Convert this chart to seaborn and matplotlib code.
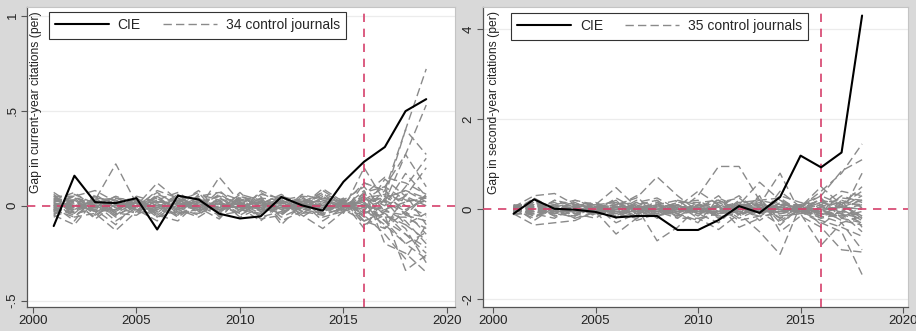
import numpy as np
import pandas as pd
import matplotlib
matplotlib.use("Agg")
import matplotlib.pyplot as plt
from matplotlib.lines import Line2D
import seaborn as sns

# ---------------- data ----------------
years_left = list(range(2001, 2020))
years_right = list(range(2001, 2019))

cie_left = [-0.107, 0.158, 0.019, 0.014, 0.040, -0.125, 0.053, 0.033, -0.042, -0.067,
            -0.056, 0.046, 0.002, -0.026, 0.126, 0.232, 0.309, 0.498, 0.561]
cie_right = [-0.10, 0.22, 0.01, -0.01, -0.06, -0.18, -0.15, -0.15, -0.46, -0.46,
             -0.24, 0.07, -0.08, 0.27, 1.19, 0.93, 1.26, 4.30]

controls_left = [
    [0.05, -0.02, 0.03, 0.22, 0.01, -0.04, 0.02, 0.01, -0.02, 0.00, 0.02, -0.01, 0.01, 0.00, 0.01, 0.12, 0.08, 0.40, 0.72],
    [-0.03, 0.04, 0.02, -0.05, 0.00, 0.12, 0.03, -0.02, 0.15, 0.02, -0.03, 0.01, 0.04, -0.02, 0.00, 0.03, 0.10, 0.27, 0.53],
    [0.02, -0.06, -0.04, -0.13, -0.03, 0.05, -0.02, 0.03, -0.01, 0.04, 0.01, -0.02, 0.00, 0.09, 0.02, -0.05, 0.05, 0.40, 0.27],
    [0.00, 0.05, 0.08, 0.02, -0.02, -0.01, 0.06, -0.03, 0.02, -0.04, 0.08, 0.03, -0.02, 0.01, -0.02, 0.20, 0.02, 0.27, 0.10],
    [-0.05, -0.10, 0.03, 0.04, 0.03, -0.05, -0.08, 0.02, 0.05, 0.01, -0.02, 0.05, 0.02, -0.04, 0.03, -0.10, -0.05, -0.34, -0.26],
    [0.04, 0.02, -0.03, -0.02, 0.05, 0.02, 0.01, 0.08, -0.03, 0.02, -0.06, -0.03, 0.06, 0.03, -0.01, 0.08, -0.20, -0.25, -0.35],
    [-0.02, 0.06, 0.01, -0.08, -0.01, 0.08, 0.04, -0.04, 0.00, -0.02, 0.04, -0.08, -0.03, 0.05, 0.02, -0.03, 0.14, 0.05, 0.20],
    [0.06, -0.04, 0.05, 0.01, 0.02, -0.06, -0.03, 0.05, 0.07, 0.03, 0.00, 0.02, -0.05, -0.12, -0.03, 0.05, 0.00, 0.17, 0.05],
    [-0.04, 0.01, -0.06, 0.03, -0.04, 0.03, 0.07, 0.00, -0.05, -0.03, 0.06, 0.04, 0.03, -0.01, 0.04, -0.08, -0.12, 0.06, -0.10],
    [0.01, -0.03, 0.04, -0.03, 0.04, -0.02, -0.05, 0.06, 0.03, -0.06, -0.01, -0.04, 0.02, 0.07, -0.04, 0.12, 0.08, -0.05, 0.06],
    [0.03, 0.07, -0.01, 0.05, -0.03, 0.06, 0.02, -0.01, -0.07, 0.05, 0.02, 0.00, -0.04, 0.02, 0.03, -0.04, 0.03, -0.10, -0.18],
    [-0.06, -0.01, 0.02, -0.06, 0.02, 0.00, -0.01, -0.05, 0.04, 0.00, -0.05, 0.03, 0.05, -0.05, -0.01, 0.02, -0.08, -0.15, -0.22],
    [0.02, 0.03, -0.07, 0.01, -0.02, -0.08, 0.05, 0.03, -0.02, 0.06, 0.03, -0.06, -0.01, 0.04, 0.02, -0.12, 0.04, 0.08, 0.04],
    [-0.01, -0.05, 0.00, 0.05, 0.01, 0.04, -0.04, -0.02, 0.08, -0.01, -0.08, 0.02, 0.03, -0.06, -0.03, 0.01, -0.04, -0.12, -0.30],
    [0.07, 0.00, 0.02, -0.04, -0.05, 0.02, 0.03, 0.02, -0.04, 0.03, 0.05, -0.10, 0.01, 0.03, 0.00, 0.06, 0.15, 0.12, 0.06],
    [-0.03, 0.04, -0.05, 0.02, 0.03, -0.03, -0.02, -0.06, 0.01, -0.05, 0.01, 0.05, -0.03, 0.08, 0.01, -0.02, -0.10, -0.20, -0.14],
    [0.00, -0.08, 0.06, -0.01, 0.00, 0.07, 0.00, 0.04, -0.03, 0.07, -0.03, -0.01, 0.04, -0.02, -0.02, 0.04, 0.06, 0.02, 0.05],
    [0.04, 0.02, -0.02, -0.10, 0.02, -0.04, 0.06, -0.03, 0.02, -0.02, 0.07, 0.01, -0.06, 0.01, 0.02, -0.06, -0.02, -0.08, -0.20],
    [-0.02, -0.02, 0.03, 0.03, -0.03, 0.01, -0.06, 0.01, 0.05, 0.01, -0.04, 0.04, 0.02, -0.08, -0.01, 0.03, 0.02, -0.04, -0.06],
    [0.05, 0.05, -0.03, -0.02, 0.04, -0.02, 0.02, 0.07, -0.06, 0.04, 0.00, -0.03, 0.00, 0.06, 0.03, 0.10, -0.03, 0.10, 0.25],
    [-0.04, -0.03, 0.01, 0.02, -0.01, 0.05, -0.03, -0.04, 0.03, -0.03, 0.04, 0.03, -0.02, -0.04, -0.02, -0.05, -0.15, -0.28, -0.10],
    [0.01, 0.01, 0.05, -0.04, 0.02, -0.01, 0.04, 0.00, -0.01, 0.02, -0.07, -0.05, 0.05, 0.04, 0.01, 0.00, 0.05, -0.02, 0.03],
    [-0.01, -0.04, -0.02, 0.01, -0.02, 0.03, -0.01, 0.03, 0.00, -0.04, 0.02, 0.02, -0.04, -0.03, 0.00, -0.03, -0.06, -0.06, -0.12],
    [0.03, 0.00, 0.00, -0.03, 0.03, -0.06, 0.01, -0.01, 0.06, 0.00, -0.02, -0.02, 0.03, 0.02, -0.03, 0.07, 0.10, 0.03, 0.02],
    [-0.05, 0.03, -0.04, 0.04, 0.00, 0.02, -0.04, 0.05, -0.04, 0.05, 0.01, 0.06, -0.01, -0.01, 0.02, -0.08, -0.04, -0.15, -0.25],
    [0.00, -0.02, 0.02, -0.01, -0.04, -0.02, 0.05, -0.02, 0.01, -0.01, -0.01, -0.04, 0.02, 0.05, -0.01, 0.02, -0.12, -0.03, 0.05],
    [0.02, 0.05, -0.01, 0.00, 0.01, 0.04, -0.02, 0.02, -0.02, 0.03, 0.03, 0.00, -0.02, -0.02, 0.01, -0.04, 0.00, 0.05, 0.00],
    [-0.02, -0.06, 0.04, 0.03, -0.02, -0.05, 0.02, -0.03, 0.04, -0.02, -0.04, 0.04, 0.01, 0.03, 0.00, 0.05, -0.05, -0.10, -0.04],
    [0.03, 0.03, 0.00, -0.05, 0.03, 0.01, -0.05, 0.01, -0.03, 0.01, 0.02, -0.05, 0.03, 0.00, -0.01, -0.02, 0.08, 0.00, -0.05],
    [-0.03, 0.00, -0.03, 0.01, 0.01, -0.03, 0.03, -0.01, 0.00, -0.01, 0.00, 0.02, -0.03, -0.05, 0.02, 0.01, -0.08, -0.20, -0.28],
    [0.01, -0.01, 0.01, 0.02, -0.01, 0.00, -0.01, 0.03, 0.02, 0.01, -0.02, -0.01, 0.00, 0.01, -0.02, -0.08, -0.03, -0.05, -0.08],
    [-0.01, 0.02, -0.01, -0.02, 0.02, 0.02, 0.00, -0.02, -0.01, 0.02, 0.01, 0.01, -0.01, -0.01, 0.00, 0.03, 0.04, 0.08, 0.02],
    [0.00, 0.00, 0.02, 0.00, 0.00, -0.01, 0.01, 0.00, 0.01, -0.01, 0.02, -0.02, 0.02, 0.02, 0.01, -0.01, 0.03, -0.03, -0.15],
    [-0.02, -0.01, -0.01, 0.01, -0.01, 0.01, -0.02, 0.01, -0.02, 0.00, -0.01, 0.00, 0.01, -0.02, 0.00, 0.00, -0.02, 0.02, 0.04],
]

controls_right = [
    [0.05, 0.30, 0.35, 0.10, 0.05, -0.10, 0.05, 0.10, -0.05, 0.30, 0.95, 0.95, 0.20, 0.10, 0.05, 0.40, 0.80, 1.45],
    [-0.10, -0.35, -0.30, -0.25, -0.05, -0.55, -0.20, -0.05, 0.10, -0.10, -0.30, 0.10, 0.60, 0.20, -0.05, -0.30, -0.50, -1.45],
    [0.08, 0.10, -0.05, 0.20, 0.10, 0.48, 0.05, -0.70, -0.40, 0.05, 0.20, -0.10, -0.50, -1.00, 0.10, 0.30, 0.85, 1.10],
    [-0.05, 0.15, 0.05, -0.10, -0.20, 0.10, 0.25, 0.72, 0.30, -0.05, -0.10, 0.05, 0.10, 0.80, -0.10, -0.80, -0.30, -0.90],
    [0.00, -0.20, 0.10, 0.20, 0.05, 0.20, -0.25, -0.10, 0.05, 0.40, 0.10, -0.40, -0.20, 0.40, 0.05, 0.50, 0.10, 0.50],
    [0.10, 0.05, -0.15, -0.05, 0.15, -0.15, 0.10, 0.20, -0.20, -0.20, -0.45, -0.10, 0.30, -0.50, -0.15, -0.40, -0.90, -0.95],
    [-0.12, -0.05, 0.20, 0.05, -0.10, 0.05, 0.30, -0.20, 0.20, 0.10, 0.05, 0.30, -0.10, 0.30, 0.15, 0.10, 0.40, 0.30],
    [0.03, 0.20, -0.10, -0.15, 0.05, -0.30, -0.10, 0.05, -0.10, -0.30, 0.25, 0.05, 0.20, -0.30, 0.00, -0.20, 0.20, -0.40],
    [-0.08, 0.10, 0.05, -0.10, 0.10, 0.15, -0.05, 0.15, -0.15, 0.05, -0.15, 0.20, 0.05, -0.20, 0.05, 0.20, -0.10, 0.80],
    [0.06, -0.15, -0.05, 0.15, -0.05, -0.10, 0.10, -0.20, 0.10, -0.15, 0.15, -0.05, -0.15, 0.15, -0.05, -0.25, -0.40, -0.60],
    [-0.02, 0.05, 0.15, -0.05, 0.00, 0.20, -0.10, 0.00, 0.15, 0.20, -0.05, 0.10, 0.15, -0.10, 0.10, 0.05, 0.25, 0.20],
    [0.04, -0.10, -0.20, 0.10, 0.15, -0.05, 0.15, 0.25, 0.00, -0.05, 0.10, -0.20, 0.00, 0.10, -0.10, -0.10, -0.20, -0.30],
    [-0.06, 0.25, 0.00, -0.20, -0.10, 0.05, -0.15, -0.10, -0.10, 0.15, -0.20, 0.00, 0.25, -0.25, 0.00, 0.15, 0.05, 0.30],
    [0.02, -0.05, 0.10, 0.00, 0.05, -0.20, 0.05, 0.10, 0.20, -0.10, 0.05, 0.15, -0.25, 0.05, -0.05, -0.05, -0.15, -0.10],
    [-0.04, 0.00, -0.10, 0.05, -0.15, 0.10, -0.05, -0.15, -0.05, 0.00, 0.30, -0.15, 0.05, -0.05, 0.05, 0.30, 0.10, -0.20],
    [0.07, 0.15, 0.05, -0.15, 0.10, -0.05, 0.20, 0.05, 0.10, -0.20, -0.10, 0.05, -0.05, 0.20, 0.00, -0.15, -0.30, -0.15],
    [-0.10, -0.10, 0.20, 0.10, -0.05, 0.25, 0.00, -0.05, -0.20, 0.10, 0.00, -0.05, 0.10, -0.15, -0.10, 0.05, 0.15, 0.10],
    [0.00, 0.20, -0.05, -0.05, 0.05, -0.10, -0.20, 0.10, 0.05, 0.05, 0.15, 0.25, -0.10, 0.10, 0.10, -0.35, 0.00, -0.25],
    [0.05, -0.25, 0.05, 0.15, -0.05, 0.05, 0.10, -0.10, -0.05, -0.05, -0.15, -0.10, 0.00, 0.00, -0.05, 0.25, -0.20, 0.05],
    [-0.03, 0.10, -0.15, -0.05, 0.00, -0.15, 0.05, 0.00, 0.15, 0.15, 0.20, 0.00, -0.05, -0.05, 0.05, -0.05, 0.30, 0.15],
    [0.01, -0.15, 0.00, 0.05, -0.10, 0.00, -0.10, 0.20, -0.10, -0.25, -0.05, 0.15, 0.20, 0.25, -0.05, 0.10, -0.10, -0.50],
    [-0.07, 0.05, 0.10, -0.10, 0.05, 0.10, 0.15, -0.05, 0.00, 0.00, 0.05, -0.25, -0.15, -0.10, 0.00, -0.10, 0.05, 0.00],
    [0.09, -0.05, -0.10, 0.00, -0.05, -0.05, -0.05, 0.05, -0.15, 0.10, -0.20, 0.05, 0.05, 0.05, -0.10, 0.00, -0.25, -0.35],
    [-0.01, 0.00, 0.05, 0.10, 0.10, 0.05, 0.05, -0.05, 0.10, -0.10, 0.10, -0.05, -0.05, -0.35, 0.05, 0.20, 0.10, 0.40],
    [0.03, 0.10, -0.05, -0.20, -0.05, -0.05, -0.15, 0.15, 0.05, 0.05, -0.10, 0.10, 0.10, 0.05, 0.00, -0.15, -0.05, -0.10],
    [-0.05, -0.05, 0.00, 0.00, 0.00, 0.00, 0.10, -0.05, -0.05, -0.05, 0.10, -0.05, -0.10, 0.15, 0.05, 0.00, 0.05, 0.20],
    [0.02, 0.05, 0.05, 0.05, -0.05, 0.15, -0.10, 0.00, 0.00, 0.10, -0.05, 0.00, 0.15, -0.20, -0.05, -0.05, -0.10, -0.20],
    [-0.09, -0.10, -0.05, -0.05, 0.05, -0.10, 0.05, -0.15, 0.05, 0.00, 0.00, 0.10, -0.05, 0.00, 0.00, 0.15, 0.20, 0.05],
    [0.06, 0.00, 0.10, 0.00, -0.10, 0.05, 0.00, 0.10, -0.10, -0.05, 0.05, -0.10, 0.00, 0.10, 0.10, -0.10, -0.15, -0.05],
    [-0.03, 0.15, -0.05, 0.05, 0.05, -0.05, -0.05, 0.05, 0.10, -0.10, -0.05, 0.05, 0.10, -0.05, -0.05, 0.05, 0.00, 0.10],
    [0.00, -0.05, 0.00, -0.05, 0.00, 0.05, 0.05, 0.00, -0.05, 0.05, 0.05, 0.05, -0.05, 0.05, 0.00, -0.05, 0.10, -0.15],
    [-0.04, 0.05, -0.10, 0.10, -0.05, -0.05, 0.00, -0.05, 0.00, 0.05, -0.10, -0.05, 0.05, -0.10, 0.00, 0.10, -0.05, 0.25],
    [0.04, -0.10, 0.05, -0.10, 0.00, 0.10, -0.05, 0.00, 0.05, -0.05, 0.00, 0.00, -0.05, 0.10, 0.05, -0.20, -0.10, -0.30],
    [-0.01, 0.10, 0.00, 0.05, 0.10, 0.00, 0.05, 0.05, -0.05, 0.00, 0.05, 0.10, 0.00, 0.00, -0.05, 0.00, 0.05, 0.00],
    [0.02, -0.05, -0.05, -0.05, -0.05, -0.05, -0.05, -0.10, 0.00, -0.05, -0.05, -0.10, -0.05, -0.05, 0.00, -0.10, -0.05, -0.15],
]

treat_year = 2016
xticks = [2000, 2005, 2010, 2015, 2020]
yticks_left = [-0.5, 0, 0.5, 1]
ytick_labels_left = ["-.5", "0", ".5", "1"]
yticks_right = [-2, 0, 2, 4]
ytick_labels_right = ["-2", "0", "2", "4"]
ylabel_left = "Gap in current-year citations (per)"
ylabel_right = "Gap in second-year citations (per)"
legend_left = ["CIE", "34 control journals"]
legend_right = ["CIE", "35 control journals"]

# ---------------- style ----------------
sns.set_theme(style="white")
plt.rcParams["font.family"] = ["Liberation Sans", "DejaVu Sans"]

BG = "#d9d9d9"
GRID = "#ececec"
CTRL = "#8a8a8a"
RED = "#d6416c"
AX = "#555555"
CTRL_LS = (0, (6, 3))

fig = plt.figure(figsize=(9.16, 3.31), dpi=100, facecolor=BG)
ax1 = fig.add_axes([27 / 916, 24 / 331, 428 / 916, 300 / 331])
ax2 = fig.add_axes([483 / 916, 24 / 331, 425 / 916, 300 / 331])


def long_df(years, series):
    rows = []
    for j, s in enumerate(series):
        for y, v in zip(years, s):
            rows.append((j, y, v))
    return pd.DataFrame(rows, columns=["journal", "year", "gap"])


def panel(ax, years, cie, controls, xlim, ylim, yticks, ylabels, ylab, leg, leg_xy, ylab_x):
    ax.set_facecolor("white")
    for yt in yticks:
        if yt != 0:
            ax.axhline(yt, color=GRID, lw=0.9, zorder=0)
    df = long_df(years, controls)
    sns.lineplot(data=df, x="year", y="gap", units="journal", estimator=None,
                 color=CTRL, lw=1.0, linestyle=CTRL_LS, ax=ax, zorder=2)
    ax.axhline(0, color=RED, lw=1.2, linestyle=(0, (5, 4)), zorder=3)
    ax.axvline(treat_year, color=RED, lw=1.2, linestyle=(0, (5, 4)), zorder=3)
    cdf = pd.DataFrame({"year": years, "gap": cie})
    sns.lineplot(data=cdf, x="year", y="gap", color="black", lw=1.5, ax=ax, zorder=4)

    ax.set_xlim(*xlim)
    ax.set_ylim(*ylim)
    ax.set_xticks(xticks)
    ax.set_xticklabels([str(x) for x in xticks], fontsize=9.5, color="#222222")
    ax.set_yticks(yticks)
    ax.set_yticklabels(ylabels, fontsize=9.5, color="#222222", rotation=90, va="center")
    ax.tick_params(axis="both", direction="out", length=4, width=0.8, color=AX,
                   bottom=True, left=True, pad=2)
    ax.set_xlabel("")
    ax.set_ylabel("")
    for side in ["left", "bottom"]:
        ax.spines[side].set_color(AX)
        ax.spines[side].set_linewidth(0.9)
    for side in ["top", "right"]:
        ax.spines[side].set_color("#c4c4c4")
        ax.spines[side].set_linewidth(0.8)
    ax.text(ylab_x, 0.985, ylab, transform=ax.transAxes, rotation=90,
            ha="center", va="top", fontsize=8.7, color="#222222")
    handles = [Line2D([], [], color="black", lw=1.5),
               Line2D([], [], color=CTRL, lw=1.0, linestyle=CTRL_LS)]
    lg = ax.legend(handles, leg, loc="upper left", bbox_to_anchor=leg_xy,
                   borderaxespad=0, ncol=2, frameon=True, fancybox=False,
                   fontsize=10, handlelength=3.9, handletextpad=0.6,
                   columnspacing=1.6, borderpad=0.45)
    lg.get_frame().set_edgecolor("#333333")
    lg.get_frame().set_linewidth(0.8)
    lg.get_frame().set_facecolor("white")
    lg.get_frame().set_alpha(1)


panel(ax1, years_left, cie_left, controls_left,
      (1999.71, 2020.39), (-0.533, 1.046), yticks_left, ytick_labels_left,
      ylabel_left, legend_left, (0.0514, 0.983), 0.02)
panel(ax2, years_right, cie_right, controls_right,
      (1999.51, 2020.24), (-2.17, 4.49), yticks_right, ytick_labels_right,
      ylabel_right, legend_right, (0.066, 0.98), 0.027)

fig.savefig("out.png", dpi=100, facecolor=BG)
